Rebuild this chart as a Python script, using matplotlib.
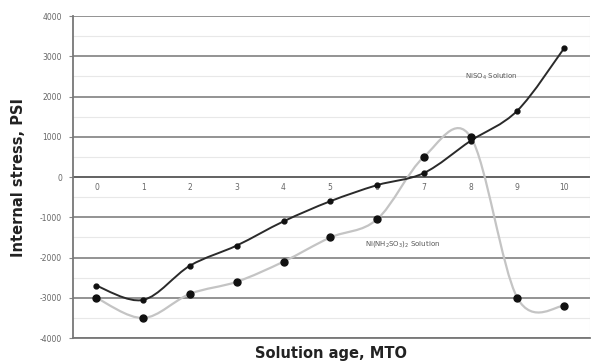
import numpy as np
import matplotlib.pyplot as plt
from matplotlib.path import Path
from matplotlib.patches import PathPatch

# Werte
age = [0, 1, 2, 3, 4, 5, 6, 7, 8, 9, 10]
nis = [-2700, -3050, -2200, -1700, -1100, -600, -200, 100, 900, 1650, 3200]
nisulf = [-3000, -3500, -2900, -2600, -2100, -1500, -1050, 500, 1000, -3000, -3200]
yticks = [-4000, -3000, -2000, -1000, 0, 1000, 2000, 3000, 4000]


def smooth(ax, x, y, **kw):
    # Excel-artige geglaettete Linie (Bezier durch die Punkte)
    p = np.column_stack([x, y]).astype(float)
    verts = [p[0]]
    codes = [Path.MOVETO]
    for i in range(len(p) - 1):
        p0 = p[i - 1] if i > 0 else p[i]
        p3 = p[i + 2] if i + 2 < len(p) else p[i + 1]
        c1 = p[i] + (p[i + 1] - p0) / 6
        c2 = p[i + 1] - (p3 - p[i]) / 6
        verts += [c1, c2, p[i + 1]]
        codes += [Path.CURVE4] * 3
    ax.add_patch(PathPatch(Path(verts, codes), fill=False, **kw))


fig = plt.figure(figsize=(5.94, 3.64), dpi=100)
ax = fig.add_axes([0.123, 0.071, 0.87, 0.885])

for yv in yticks:
    ax.axhline(yv, color='#555555' if yv == 0 else '#8a8a8a', lw=1.3, zorder=1)
for yv in np.arange(-3500, 4000, 1000):
    ax.axhline(yv, color='#e8e8e8', lw=0.8, zorder=0)

smooth(ax, age, nisulf, edgecolor='#c4c4c4', lw=1.6, zorder=2)
smooth(ax, age, nis, edgecolor='#2a2a2a', lw=1.4, zorder=3)
ax.plot(age, nisulf, 'o', color='#111111', ms=5, zorder=4, ls='none')
ax.plot(age, nis, 'o', color='#111111', ms=3.5, zorder=5, ls='none')

ax.text(8.44, 2500, 'NiSO$_4$ Solution', fontsize=5, color='#555555', ha='center', va='center')
ax.text(6.55, -1670, 'Ni(NH$_2$SO$_3$)$_2$ Solution', fontsize=5, color='#555555', ha='center', va='center')

for a in age:
    ax.text(a, -270, str(a), fontsize=5.5, color='#666666', ha='center', va='center')

ax.set_xlim(-0.5, 10.55)
ax.set_ylim(-4000, 4000)
ax.set_xticks([])
ax.set_yticks(yticks)
ax.set_yticklabels([str(v) for v in yticks], fontsize=5.5, color='#666666')
ax.tick_params(axis='y', length=3, color='#888888', pad=5)
for s in ['top', 'right']:
    ax.spines[s].set_visible(False)
ax.spines['left'].set_color('#777777')
ax.spines['left'].set_linewidth(1.3)
ax.spines['bottom'].set_color('#777777')
ax.spines['bottom'].set_linewidth(1.3)
ax.axvline(10.55, color='#dddddd', lw=0.8)

ax.set_ylabel('Internal stress, PSI', fontsize=10.5, fontweight='bold', color='#222222', labelpad=10)
ax.set_xlabel('Solution age, MTO', fontsize=10.5, fontweight='bold', color='#222222', labelpad=6)

plt.savefig('out.png', dpi=100)
